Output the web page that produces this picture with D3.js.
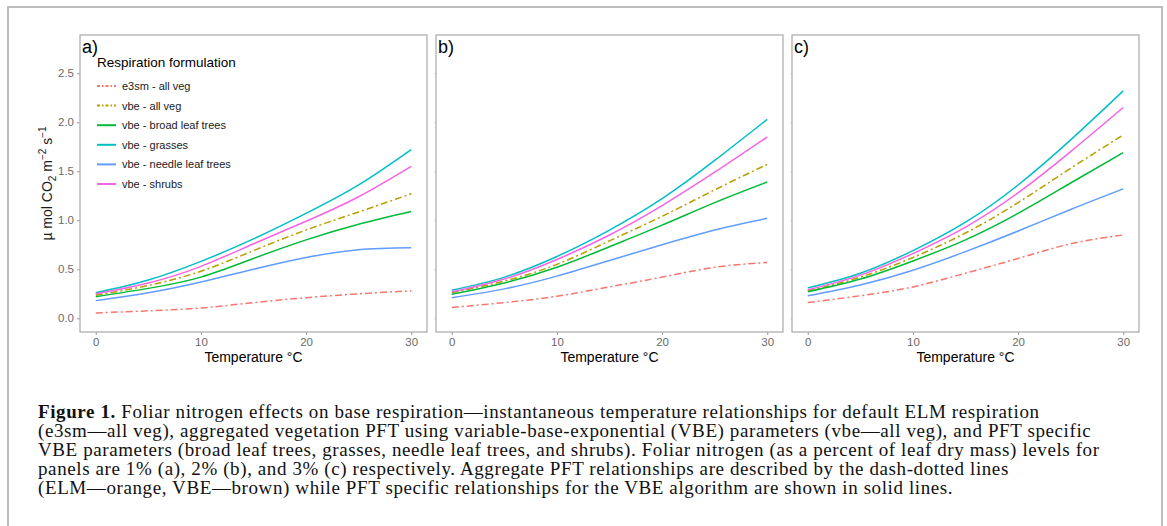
<!DOCTYPE html>
<html>
<head>
<meta charset="utf-8">
<script src="https://cdn.jsdelivr.net/npm/d3@7"></script>
<style>
  body { margin: 0; background: #fff; }
  svg { display: block; }
</style>
</head>
<body>
<div id="chart"></div>
<script>
// temperatures (deg C) at which curves were read
const temps = [0, 5, 10, 15, 20, 25, 30];

const seriesNames = ["e3sm - all veg", "vbe - all veg", "vbe - broad leaf trees",
                     "vbe - grasses", "vbe - needle leaf trees", "vbe - shrubs"];
const seriesColors = ["#F8766D", "#B79F00", "#00BA38", "#00BFC4", "#619CFF", "#F564E3"];
const seriesDashed = [true, true, false, false, false, false];

// panel a) 1% foliar N
const e3smA   = [0.054, 0.076, 0.105, 0.16, 0.21, 0.25, 0.28];
const vbeA    = [0.235, 0.335, 0.48, 0.69, 0.90, 1.085, 1.27];
const broadA  = [0.22, 0.305, 0.42, 0.61, 0.80, 0.96, 1.09];
const grassA  = [0.26, 0.39, 0.58, 0.81, 1.07, 1.36, 1.72];
const needleA = [0.18, 0.26, 0.37, 0.50, 0.62, 0.70, 0.72];
const shrubA  = [0.25, 0.36, 0.53, 0.76, 0.99, 1.24, 1.55];

// panel b) 2% foliar N
const e3smB   = [0.11, 0.16, 0.225, 0.32, 0.42, 0.52, 0.57];
const vbeB    = [0.26, 0.38, 0.55, 0.79, 1.04, 1.31, 1.57];
const broadB  = [0.245, 0.36, 0.52, 0.73, 0.95, 1.18, 1.39];
const grassB  = [0.285, 0.42, 0.63, 0.90, 1.22, 1.61, 2.03];
const needleB = [0.21, 0.30, 0.43, 0.59, 0.75, 0.90, 1.02];
const shrubB  = [0.27, 0.40, 0.60, 0.85, 1.15, 1.49, 1.85];

// panel c) 3% foliar N
const e3smC   = [0.16, 0.23, 0.32, 0.46, 0.61, 0.76, 0.85];
const vbeC    = [0.28, 0.42, 0.62, 0.87, 1.18, 1.53, 1.87];
const broadC  = [0.27, 0.40, 0.585, 0.80, 1.07, 1.38, 1.69];
const grassC  = [0.31, 0.46, 0.69, 0.98, 1.36, 1.82, 2.32];
const needleC = [0.23, 0.34, 0.49, 0.68, 0.89, 1.11, 1.32];
const shrubC  = [0.29, 0.44, 0.66, 0.93, 1.28, 1.70, 2.15];

const panelLabels = ["a)", "b)", "c)"];
const xTicks = [0, 10, 20, 30];
const yTicks = [0.0, 0.5, 1.0, 1.5, 2.0, 2.5];

const captionLines = [
  [["Figure 1.", true], [" Foliar nitrogen effects on base respiration\u2014instantaneous temperature relationships for default ELM respiration", false]],
  [["(e3sm\u2014all veg), aggregated vegetation PFT using variable-base-exponential (VBE) parameters (vbe\u2014all veg), and PFT specific", false]],
  [["VBE parameters (broad leaf trees, grasses, needle leaf trees, and shrubs). Foliar nitrogen (as a percent of leaf dry mass) levels for", false]],
  [["panels are 1% (a), 2% (b), and 3% (c) respectively. Aggregate PFT relationships are described by the dash-dotted lines", false]],
  [["(ELM\u2014orange, VBE\u2014brown) while PFT specific relationships for the VBE algorithm are shown in solid lines.", false]]
];

const panels = [
  [e3smA, vbeA, broadA, grassA, needleA, shrubA],
  [e3smB, vbeB, broadB, grassB, needleB, shrubB],
  [e3smC, vbeC, broadC, grassC, needleC, shrubC]
];

const W = 1167, H = 526;
const svg = d3.select("#chart").append("svg")
  .attr("width", W).attr("height", H);

// outer figure frame (open at the bottom)
svg.append("path")
  .attr("d", `M8,${H} V7 H1162 V${H}`)
  .attr("fill", "none")
  .attr("stroke", "#bdbdbd")
  .attr("stroke-width", 2);

const plotTop = 35, plotBottom = 332;
const panelW = 347, gap = 9, firstLeft = 80;
const sans = "'Liberation Sans', Arial, sans-serif";

const y = d3.scaleLinear().domain([-0.14, 2.89]).range([plotBottom, plotTop]);

const line = (x) => d3.line()
  .x((d, i) => x(temps[i]))
  .y(d => y(d))
  .curve(d3.curveNatural);

panels.forEach((series, p) => {
  const left = firstLeft + p * (panelW + gap);
  const x = d3.scaleLinear().domain([-1.5, 31.5]).range([left, left + panelW]);
  const g = svg.append("g");

  // x axis
  const xAxis = g.append("g")
    .attr("transform", `translate(0,${plotBottom})`)
    .call(d3.axisBottom(x).tickValues(xTicks).tickSize(3).tickPadding(3));
  xAxis.select(".domain").remove();
  xAxis.selectAll(".tick line").attr("stroke", "#9a9a9a");
  xAxis.selectAll(".tick text")
    .attr("fill", "#6b6b6b")
    .style("font-family", sans)
    .style("font-size", "11.5px");

  // y axis ticks (labels only on the first panel)
  const yAxis = g.append("g")
    .attr("transform", `translate(${left},0)`)
    .call(d3.axisLeft(y).tickValues(yTicks).tickSize(p === 0 ? 3 : 2).tickPadding(3)
      .tickFormat(p === 0 ? d3.format(".1f") : ""));
  yAxis.select(".domain").remove();
  yAxis.selectAll(".tick line").attr("stroke", p === 0 ? "#9a9a9a" : "#e2e2e2");
  yAxis.selectAll(".tick text")
    .attr("fill", "#6b6b6b")
    .style("font-family", sans)
    .style("font-size", "11.5px");

  // curves
  series.forEach((vals, s) => {
    g.append("path")
      .datum(vals)
      .attr("d", line(x))
      .attr("fill", "none")
      .attr("stroke", seriesColors[s])
      .attr("stroke-width", 1.5)
      .attr("stroke-dasharray", seriesDashed[s] ? "7,3,2,3" : null);
  });

  // panel border
  g.append("rect")
    .attr("x", left).attr("y", plotTop)
    .attr("width", panelW).attr("height", plotBottom - plotTop)
    .attr("fill", "none")
    .attr("stroke", "#a8a8a8")
    .attr("stroke-width", 1.2);

  g.append("text")
    .attr("x", left + 2).attr("y", plotTop + 18)
    .style("font-family", sans)
    .style("font-size", "18px")
    .text(panelLabels[p]);

  g.append("text")
    .attr("x", (x(0) + x(30)) / 2).attr("y", 362)
    .attr("text-anchor", "middle")
    .style("font-family", sans)
    .style("font-size", "14px")
    .text("Temperature \u00B0C");
});

// y axis title
const yTitle = svg.append("text")
  .attr("transform", `translate(52,${(plotTop + plotBottom) / 2}) rotate(-90)`)
  .attr("text-anchor", "middle")
  .style("font-family", sans)
  .style("font-size", "14px")
  .attr("fill", "#1a1a1a");
yTitle.append("tspan").text("\u00B5 mol CO");
yTitle.append("tspan").attr("dy", 4).style("font-size", "10px").text("2");
yTitle.append("tspan").attr("dy", -4).text(" m");
yTitle.append("tspan").attr("dy", -6).style("font-size", "10px").text("\u22122");
yTitle.append("tspan").attr("dy", 6).text(" s");
yTitle.append("tspan").attr("dy", -6).style("font-size", "10px").text("\u22121");

// legend inside panel a
const legend = svg.append("g").attr("transform", "translate(97,0)");
legend.append("text")
  .attr("x", 0).attr("y", 67)
  .style("font-family", sans)
  .style("font-size", "13.5px")
  .text("Respiration formulation");
seriesNames.forEach((name, s) => {
  const ly = 86 + s * 19.6;
  legend.append("line")
    .attr("x1", 0).attr("x2", 19)
    .attr("y1", ly).attr("y2", ly)
    .attr("stroke", seriesColors[s])
    .attr("stroke-width", 2)
    .attr("stroke-dasharray", seriesDashed[s] ? "3,2,1.5,2" : null);
  legend.append("text")
    .attr("x", 25).attr("y", ly + 4)
    .style("font-family", sans)
    .style("font-size", "11px")
    .attr("fill", "#1a1a1a")
    .text(name);
});

// caption
const cap = svg.append("g");
captionLines.forEach((parts, i) => {
  const t = cap.append("text")
    .attr("x", 38).attr("y", 418 + i * 19)
    .style("font-family", "'Liberation Serif', 'Times New Roman', serif")
    .style("font-size", "19px")
    .style("letter-spacing", "0.6px")
    .attr("fill", "#111");
  parts.forEach(([str, bold]) => {
    t.append("tspan").style("font-weight", bold ? "bold" : "normal").text(str);
  });
});
</script>
</body>
</html>
